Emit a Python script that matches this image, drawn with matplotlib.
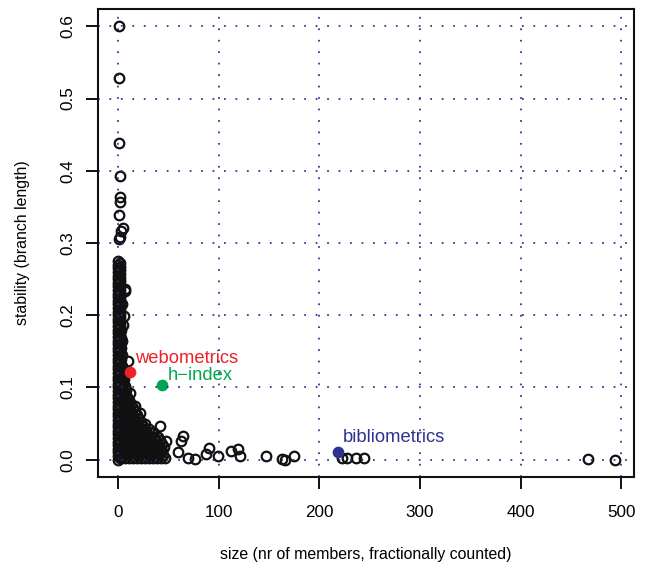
import numpy as np
import matplotlib
matplotlib.use('Agg')
from matplotlib import pyplot as plt

plt.rcParams['font.family'] = ['Liberation Sans', 'DejaVu Sans']

# dense column of clusters at size ~0-2
col_a_x = [0.4] * 56
col_a_y = [0.000, 0.005, 0.010, 0.015, 0.020, 0.025, 0.030, 0.035, 0.040, 0.045,
           0.050, 0.055, 0.060, 0.065, 0.070, 0.075, 0.080, 0.085, 0.090, 0.095,
           0.100, 0.105, 0.110, 0.115, 0.120, 0.125, 0.130, 0.135, 0.140, 0.145,
           0.150, 0.155, 0.160, 0.165, 0.170, 0.175, 0.180, 0.185, 0.190, 0.195,
           0.200, 0.205, 0.210, 0.215, 0.220, 0.225, 0.230, 0.235, 0.240, 0.245,
           0.250, 0.255, 0.260, 0.265, 0.270, 0.275]
col_b_x = [1.9] * 55
col_b_y = [0.002, 0.007, 0.012, 0.017, 0.022, 0.027, 0.032, 0.037, 0.042, 0.047,
           0.052, 0.057, 0.062, 0.067, 0.072, 0.077, 0.082, 0.087, 0.092, 0.097,
           0.102, 0.107, 0.112, 0.117, 0.122, 0.127, 0.132, 0.137, 0.142, 0.147,
           0.152, 0.157, 0.162, 0.167, 0.172, 0.177, 0.182, 0.187, 0.192, 0.197,
           0.202, 0.207, 0.212, 0.217, 0.222, 0.227, 0.232, 0.237, 0.242, 0.247,
           0.252, 0.257, 0.262, 0.267, 0.272]

# body of small clusters, fanning out to the right at low stability
body_x = [3, 7, 11, 15, 19, 23, 27, 31, 35, 39, 43, 47,
          5, 9, 13, 17, 21, 25, 29, 33, 37, 41, 45,
          3, 7, 11, 15, 19, 23, 27, 31, 35, 39, 44,
          5, 9, 13, 17, 21, 25, 29, 33, 37, 42, 46,
          3, 7, 11, 15, 19, 23, 27, 31, 35, 40, 44,
          5, 9, 13, 17, 21, 25, 29, 33, 38, 42,
          3, 7, 11, 15, 19, 23, 27, 31, 36, 40,
          5, 9, 13, 17, 21, 25, 29, 34,
          3, 7, 11, 15, 19, 23, 27, 31,
          5, 9, 13, 17, 21, 25,
          3, 7, 11, 15, 19, 23,
          5, 9, 13, 17, 21,
          3, 7, 11, 15, 19,
          5, 9, 13, 17,
          3, 7, 11, 15,
          5, 9, 13,
          3, 7, 11,
          5, 9,
          3, 7,
          5, 8,
          3, 7,
          5,
          3, 6,
          4,
          3, 5,
          4,
          3, 4,
          3,
          4,
          3,
          4]
body_y = [0.002] * 12 + [0.007] * 11 + [0.012] * 11 + [0.017] * 11 + [0.022] * 11 \
    + [0.027] * 10 + [0.032] * 10 + [0.037] * 8 + [0.042] * 8 + [0.047] * 6 \
    + [0.052] * 6 + [0.057] * 5 + [0.062] * 5 + [0.067] * 4 + [0.072] * 4 \
    + [0.077] * 3 + [0.082] * 3 + [0.087] * 2 + [0.092] * 2 + [0.097] * 2 \
    + [0.102] * 2 + [0.107] + [0.112] * 2 + [0.117] + [0.122] * 2 + [0.130] \
    + [0.140, 0.145] + [0.155] + [0.165] + [0.180] + [0.215]

# scattered clusters
out_x = [0.7, 0.7, 1.0, 1.7, 2.0, 2.5, 1.5, 4.7, 3.4, 0.7, 2.0,
         6.7, 7.4, 6.0, 5.0, 3.4, 10.0, 11.6, 10.0, 16.6, 21.6, 26.6,
         41.5, 34.8, 48.0, 64.7, 63.0, 60.0, 70.0, 77.0, 88.0, 91.0,
         99.5, 112.0, 119.4, 121.0, 147.6, 162.6, 166.0, 174.8,
         222.3, 227.3, 237.0, 244.5, 467.0, 494.0]
out_y = [0.600, 0.528, 0.438, 0.393, 0.364, 0.357, 0.339, 0.321, 0.316, 0.305, 0.308,
         0.233, 0.236, 0.199, 0.187, 0.169, 0.137, 0.093, 0.079, 0.0745, 0.065, 0.049,
         0.047, 0.038, 0.026, 0.033, 0.026, 0.010, 0.003, 0.001, 0.0075, 0.016,
         0.0055, 0.0124, 0.0148, 0.0055, 0.0055, 0.001, 0.0, 0.0055,
         0.002, 0.003, 0.002, 0.003, 0.001, 0.0]

# highlighted clusters
hl_names = ['webometrics', 'h\u2212index', 'bibliometrics']
hl_x = [11.6, 43.8, 218.3]
hl_y = [0.121, 0.103, 0.011]
hl_colors = ['#ec2227', '#00a651', '#2e3192']
lbl_x = [16.6, 49.5, 223.5]
lbl_y = [0.140, 0.117, 0.030]

xticks = [0, 100, 200, 300, 400, 500]
yticks = [0.0, 0.1, 0.2, 0.3, 0.4, 0.5, 0.6]

fig = plt.figure(figsize=(6.48, 5.68), dpi=100)
ax = fig.add_axes([98 / 648, 1 - 477 / 568, 536 / 648, 468 / 568])

all_x = col_a_x + col_b_x + body_x + out_x
all_y = col_a_y + col_b_y + body_y + out_y
ax.plot(all_x, all_y, 'o', mfc='none', mec='#111111', mew=1.6, ms=6.9, zorder=2)

for name, x, y, c, tx, ty in zip(hl_names, hl_x, hl_y, hl_colors, lbl_x, lbl_y):
    ax.plot([x], [y], 'o', color=c, ms=7.4, zorder=3)
    ax.text(tx, ty, name, color=c, fontsize=13.2, ha='left', va='center', zorder=4)

# dotted blue reference grid drawn over the points
grid_kw = dict(color='#2a2aa0', lw=1.25, ls=(0, (1, 5.6)), zorder=5)
for xv in xticks:
    ax.axvline(xv, **grid_kw)
for yv in yticks:
    ax.axhline(yv, **grid_kw)

ax.set_xlim(-19.7, 512.7)
ax.set_ylim(-0.024, 0.624)
ax.set_xticks(xticks)
ax.set_yticks(yticks)
ax.set_xticklabels([str(v) for v in xticks])
ax.set_yticklabels(['%.1f' % v for v in yticks], rotation=90, va='center')
ax.tick_params(axis='both', length=8.5, width=1.4, labelsize=12.3, color='#111111')
ax.tick_params(axis='x', pad=12)
ax.tick_params(axis='y', pad=8)
for sp in ax.spines.values():
    sp.set_linewidth(1.5)
    sp.set_color('#111111')
    sp.set_zorder(6)

fig.text(366 / 648, 1 - 554 / 568, 'size (nr of members, fractionally counted)',
         ha='center', va='center', fontsize=11.4)
fig.text(23 / 648, 1 - 243 / 568, 'stability (branch length)', rotation=90,
         ha='center', va='center', fontsize=11.4)

fig.savefig('out.png', dpi=100)
